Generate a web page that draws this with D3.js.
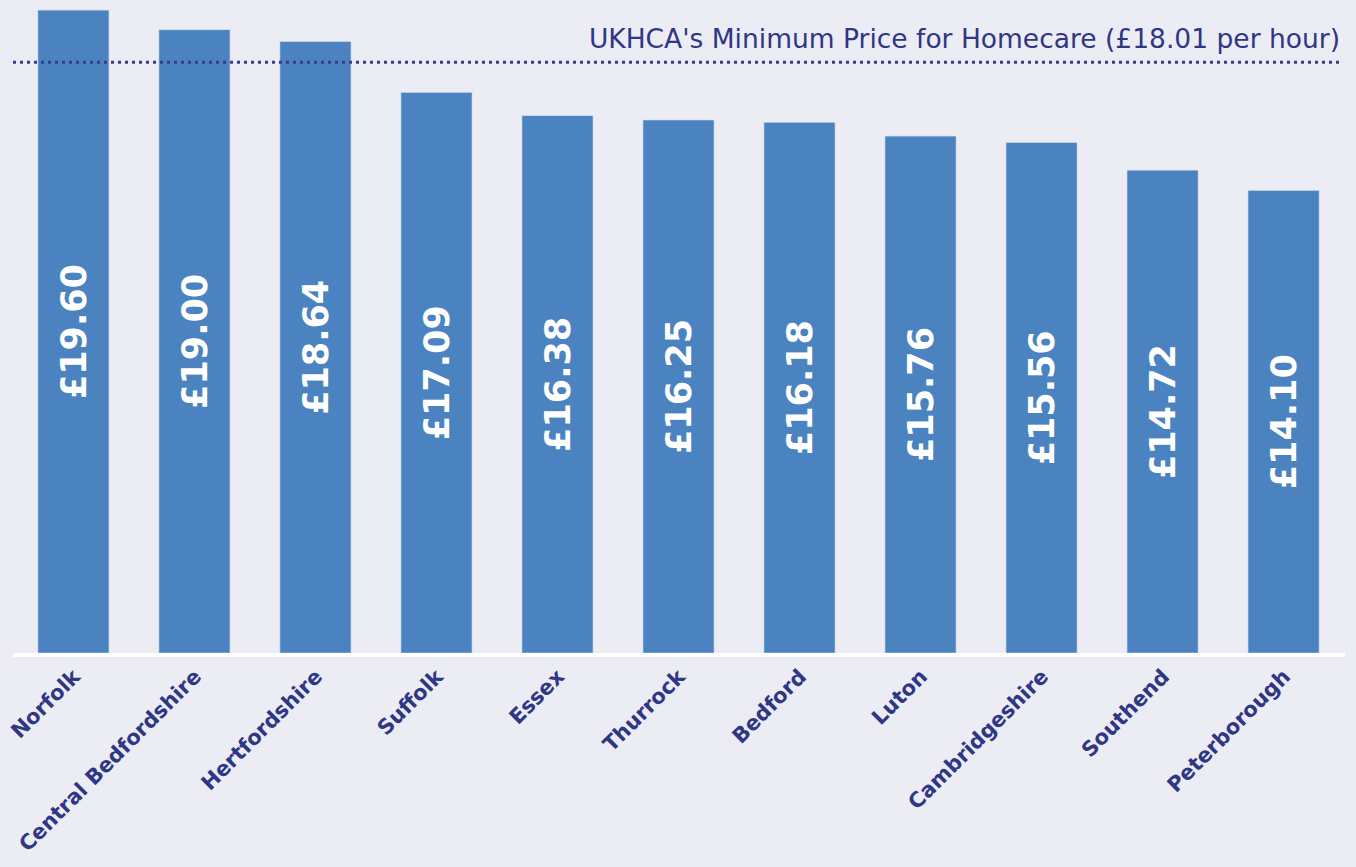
<!DOCTYPE html>
<html>
<head>
<meta charset="utf-8">
<script src="https://cdn.jsdelivr.net/npm/d3@7"></script>
<style>
  body { margin: 0; background: #ececf4; }
  svg { display: block; }
</style>
</head>
<body>
<svg id="dessin" width="1356" height="867"></svg>
<script>
let regions = ["Norfolk", "Central Bedfordshire", "Hertfordshire", "Suffolk", "Essex", "Thurrock",
  "Bedford", "Luton", "Cambridgeshire", "Southend", "Peterborough"];
let prix = [19.60, 19.00, 18.64, 17.09, 16.38, 16.25, 16.18, 15.76, 15.56, 14.72, 14.10];
let prixMinimum = 18.01;
let titreLigne = "UKHCA's Minimum Price for Homecare (£18.01 per hour)";

let data = regions.map((r, i) => ({ nom: r, valeur: prix[i] }));

const svg = d3.select("#dessin");

const x = d3.scaleBand()
  .domain(regions)
  .range([13, 1344])
  .paddingInner(0.413)
  .paddingOuter(0.206);

const y = d3.scaleLinear()
  .domain([0, 20])
  .range([653, 653 - 20 * 32.8]);

// barres
svg.selectAll(".barre")
  .data(data)
  .enter()
  .append("rect")
  .attr("class", "barre")
  .attr("x", d => x(d.nom))
  .attr("y", d => y(d.valeur))
  .attr("width", x.bandwidth())
  .attr("height", d => y(0) - y(d.valeur))
  .style("fill", "#4a83c0")
  .style("stroke", "#c9d6ea")
  .style("stroke-width", 0.6);

// valeurs dans les barres
svg.selectAll(".valeur")
  .data(data)
  .enter()
  .append("text")
  .attr("class", "valeur")
  .attr("transform", d => `translate(${x(d.nom) + x.bandwidth() / 2},${(y(d.valeur) + y(0)) / 2}) rotate(-90)`)
  .attr("text-anchor", "middle")
  .attr("dy", "0.36em")
  .style("font-family", "DejaVu Sans, Verdana, sans-serif")
  .style("font-weight", "bold")
  .style("font-size", "35px")
  .style("fill", "white")
  .text(d => "£" + d.valeur.toFixed(2));

// ligne de base
svg.append("line")
  .attr("x1", 13).attr("x2", 1345)
  .attr("y1", y(0) + 2).attr("y2", y(0) + 2)
  .style("stroke", "white")
  .style("stroke-width", 4);

// axe du bas (étiquettes seulement)
const axeB = d3.axisBottom(x).tickSize(0).tickPadding(0);
const gAxe = svg.append("g")
  .attr("transform", `translate(0,${y(0)})`)
  .call(axeB);
gAxe.select(".domain").remove();
gAxe.selectAll("text")
  .attr("text-anchor", "end")
  .attr("dy", null)
  .attr("y", 0)
  .attr("transform", "translate(8,25) rotate(-45)")
  .style("font-family", "DejaVu Sans, Verdana, sans-serif")
  .style("font-weight", "bold")
  .style("font-size", "21px")
  .style("fill", "#2e3685");

// ligne du prix minimum
svg.append("line")
  .attr("x1", 13).attr("x2", 1342)
  .attr("y1", y(prixMinimum)).attr("y2", y(prixMinimum))
  .style("stroke", "#3a3a8e")
  .style("stroke-width", 3)
  .style("stroke-dasharray", "3,4");

svg.append("text")
  .attr("x", 1340)
  .attr("y", y(prixMinimum) - 14)
  .attr("text-anchor", "end")
  .style("font-family", "DejaVu Sans, Verdana, sans-serif")
  .style("font-size", "26.5px")
  .style("fill", "#2e3685")
  .text(titreLigne);
</script>
</body>
</html>
